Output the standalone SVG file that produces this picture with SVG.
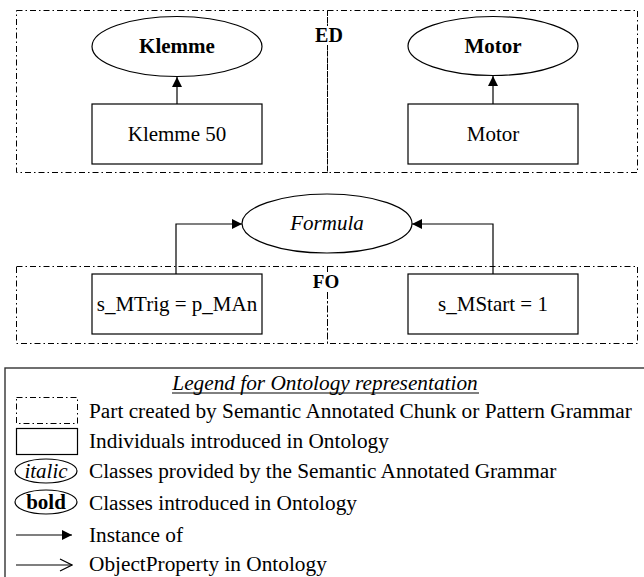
<svg xmlns="http://www.w3.org/2000/svg" width="644" height="577" viewBox="0 0 644 577">
<style>
text{font-family:"Liberation Serif","Times New Roman",serif;font-size:21px;fill:#000}
.lg{font-size:21.3px}
.dd{fill:none;stroke:#000;stroke-width:1;stroke-dasharray:6 3 1.5 3}
.nd{fill:#fff;stroke:#000;stroke-width:1.2}
.ln{fill:none;stroke:#000;stroke-width:1.2}
.c{text-anchor:middle}
.b{font-weight:bold}
.i{font-style:italic}
</style>
<defs>
<marker id="fa" viewBox="0 0 10 10" refX="10" refY="5" markerWidth="10" markerHeight="10" markerUnits="userSpaceOnUse" orient="auto"><path d="M0,0 L10,5 L0,10 z" fill="#000"/></marker>
<marker id="oa" viewBox="0 0 14 14" refX="13" refY="7" markerWidth="14" markerHeight="14" markerUnits="userSpaceOnUse" orient="auto"><path d="M1,1 L13,7 L1,13" fill="none" stroke="#000" stroke-width="1.2"/></marker>
</defs>
<g id="part-ED">
<rect class="dd" x="16.5" y="10.5" width="311" height="162"/>
<rect class="dd" x="327.5" y="10.5" width="310" height="162"/>
<rect x="312" y="26" width="32" height="19" fill="#fff"/>
<text class="c b" x="329" y="42" style="font-size:20px">ED</text>
</g>
<g id="part-FO">
<rect class="dd" x="16.5" y="266.5" width="311" height="77"/>
<rect class="dd" x="327.5" y="266.5" width="310" height="77"/>
<rect x="311" y="272" width="30" height="19" fill="#fff"/>
<text class="c b" x="326" y="288" style="font-size:19px">FO</text>
</g>
<g id="connectors">
<path class="ln" d="M177,104 V77" marker-end="url(#fa)"/>
<path class="ln" d="M493,104 V76" marker-end="url(#fa)"/>
<path class="ln" d="M176,274 V224 H242" marker-end="url(#fa)"/>
<path class="ln" d="M493,274 V224 H412" marker-end="url(#fa)"/>
</g>
<g id="class-klemme">
<ellipse class="nd" cx="177" cy="46.5" rx="85" ry="30"/>
<text class="c b" x="177" y="53">Klemme</text>
</g>
<g id="class-motor">
<ellipse class="nd" cx="493" cy="46" rx="85" ry="29.5"/>
<text class="c b" x="493" y="53">Motor</text>
</g>
<g id="ind-klemme50">
<rect class="nd" x="92" y="104" width="170" height="60"/>
<text class="c" x="177" y="141">Klemme 50</text>
</g>
<g id="ind-motor">
<rect class="nd" x="408" y="104" width="170" height="60"/>
<text class="c" x="493" y="141">Motor</text>
</g>
<g id="class-formula">
<ellipse class="nd" cx="327" cy="223.5" rx="85" ry="29.5"/>
<text class="c i" x="327" y="230">Formula</text>
</g>
<g id="ind-mtrig">
<rect class="nd" x="92" y="274" width="170" height="60"/>
<text class="c" x="177" y="311">s_MTrig = p_MAn</text>
</g>
<g id="ind-mstart">
<rect class="nd" x="408" y="274" width="170" height="60"/>
<text class="c" x="493" y="311">s_MStart = 1</text>
</g>
<g id="legend">
<rect x="5" y="368" width="650" height="220" fill="none" stroke="#333" stroke-width="1.4"/>
<text class="c i lg" x="325" y="390">Legend for Ontology representation</text>
<line x1="172" y1="393" x2="479" y2="393" stroke="#000" stroke-width="1"/>
<rect class="dd" x="16.5" y="397.5" width="61" height="26"/>
<text class="lg" x="89" y="418">Part created by Semantic Annotated Chunk or Pattern Grammar</text>
<rect class="nd" x="16.5" y="428.5" width="61" height="26"/>
<text class="lg" x="89" y="448">Individuals introduced in Ontology</text>
<ellipse class="nd" cx="46" cy="471" rx="31" ry="12"/>
<text class="c i" x="46" y="478">italic</text>
<text class="lg" x="89" y="478">Classes provided by the Semantic Annotated Grammar</text>
<ellipse class="nd" cx="46" cy="502" rx="31" ry="12"/>
<text class="c b" x="46" y="509">bold</text>
<text class="lg" x="89" y="510">Classes introduced in Ontology</text>
<line class="ln" x1="16" y1="535" x2="72" y2="535" marker-end="url(#fa)"/>
<text class="lg" x="89" y="542">Instance of</text>
<line class="ln" x1="16" y1="565" x2="72" y2="565" marker-end="url(#oa)"/>
<text class="lg" x="89" y="571">ObjectProperty in Ontology</text>
</g>
</svg>
